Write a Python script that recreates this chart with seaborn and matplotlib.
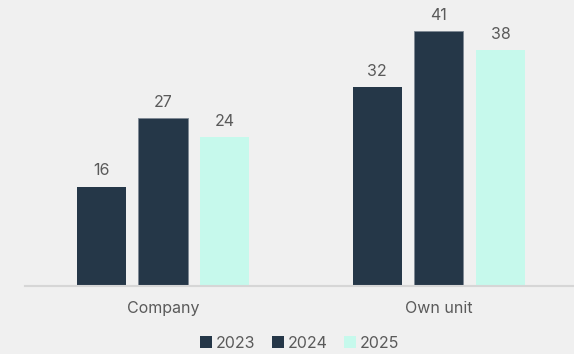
import matplotlib
matplotlib.use("Agg")
import matplotlib.pyplot as plt
from matplotlib.lines import Line2D
import pandas as pd
import seaborn as sns

categories = ["Company", "Own unit"]
years = ["2023", "2024", "2025"]
values_2023 = [16, 32]
values_2024 = [27, 41]
values_2025 = [24, 38]

palette = {"2023": "#253748", "2024": "#253748", "2025": "#c6f9ec"}
bg = "#f0f0f0"
text_color = "#5a5a5a"

df = pd.DataFrame({
    "category": categories * 3,
    "year": [y for y in years for _ in categories],
    "value": values_2023 + values_2024 + values_2025,
})

sns.set_theme(style="white")
plt.rcParams["font.family"] = ["Inter", "DejaVu Sans"]

fig = plt.figure(figsize=(5.74, 3.54), dpi=100, facecolor=bg)
ax = fig.add_axes([0.0436, 1 - 286 / 354, 1 - 0.0436, 286 / 354])
ax.set_facecolor(bg)

sns.barplot(data=df, x="category", y="value", hue="year", hue_order=years,
            palette=palette, width=0.67, gap=0.2, ax=ax, legend=False,
            linewidth=0, saturation=1)

# thin lighter outline on the middle series
for patch in ax.containers[1]:
    patch.set_edgecolor("#7d8893")
    patch.set_linewidth(0.6)

for cont in ax.containers:
    ax.bar_label(cont, labels=[f"{int(v)}" for v in cont.datavalues],
                 padding=6, fontsize=11.5, color=text_color)

ax.set_xlim(-0.5, 1.49)
ax.set_ylim(0, 286 / 6.21)
ax.set_xlabel("")
ax.set_ylabel("")
ax.set_yticks([])
for side in ["top", "right", "left"]:
    ax.spines[side].set_visible(False)
ax.spines["bottom"].set_color("#d6d6d6")
ax.spines["bottom"].set_linewidth(1.5)
ax.tick_params(axis="x", length=0, pad=10.5, labelsize=11.5, labelcolor=text_color)

handles = [Line2D([], [], marker="s", linestyle="none", markersize=8,
                  markerfacecolor=palette[y], markeredgewidth=0) for y in years]
fig.legend(handles, years, loc="center", bbox_to_anchor=(0.523, 1 - 343 / 354),
           ncol=3, frameon=False, fontsize=11.5, labelcolor=text_color,
           handlelength=0.6, handletextpad=0.3, columnspacing=1.1)

fig.savefig("out.png", dpi=100, facecolor=bg)
